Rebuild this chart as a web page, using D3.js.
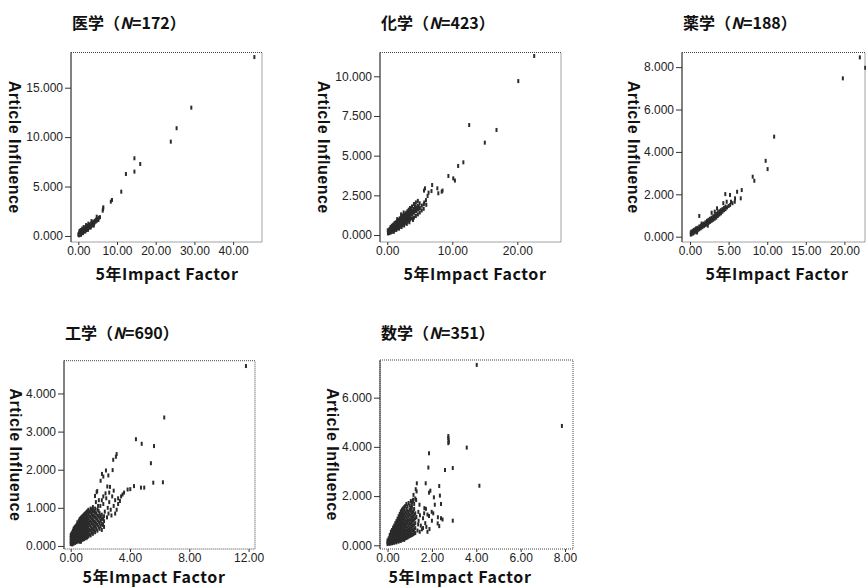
<!DOCTYPE html>
<html><head><meta charset="utf-8">
<script src="https://cdn.jsdelivr.net/npm/d3@7"></script>
<style>body{margin:0;background:#fff}</style>
</head><body><svg id="c" width="866" height="588"></svg>
<script>
const titles = ["医学","化学","薬学","工学","数学"];
const sampleN = [172,423,188,690,351];
const xTitle = "5年Impact Factor";
const yTitle = "Article Influence";

const xTicks = [[0,10,20,30,40],[0,10,20],[0,5,10,15,20],[0,4,8,12],[0,2,4,6,8]];
const yTicks = [[0,5,10,15],[0,2.5,5,7.5,10],[0,2,4,6,8],[0,1,2,3,4],[0,2,4,6]];

// 医学 (5-year IF, Article Influence)
const medPts = [
[45.5,18.1],[29.2,12.98],[25.4,10.9],[23.9,9.54],[14.5,7.86],[16.0,7.28],[14.5,6.51],[12.3,6.27],[11.1,4.48],
[8.7,3.64],[8.4,3.47],[6.46,2.9],[6.3,2.56],[6.4,2.75],[4.75,1.95],[5.3,1.85],[5.6,1.9],
[0.05,0.12],[0.1,0.2],[0.15,0.1],[0.2,0.28],[0.25,0.16],[0.3,0.22],[0.35,0.35],[0.4,0.14],[0.45,0.26],[0.5,0.4],
[0.55,0.2],[0.6,0.32],[0.65,0.45],[0.7,0.25],[0.75,0.38],[0.8,0.5],[0.85,0.3],[0.9,0.42],[0.95,0.55],[1.0,0.34],
[1.05,0.47],[1.1,0.6],[1.15,0.38],[1.2,0.52],[1.3,0.66],[1.35,0.42],[1.4,0.56],[1.5,0.72],[1.55,0.46],[1.6,0.6],
[1.7,0.78],[1.75,0.52],[1.8,0.66],[1.9,0.85],[1.95,0.58],[2.0,0.72],[2.1,0.9],[2.15,0.62],[2.2,0.78],[2.3,0.96],
[2.35,0.7],[2.4,0.84],[2.5,1.02],[2.55,0.76],[2.6,0.9],[2.7,1.08],[2.8,0.84],[2.9,0.98],[3.0,1.15],[3.05,0.9],
[3.2,1.05],[3.3,1.25],[3.4,1.0],[3.5,1.15],[3.6,1.35],[3.7,1.12],[3.8,1.25],[3.9,1.45],[4.0,1.22],[4.2,1.35],
[4.3,1.55],[4.5,1.45],[4.6,1.65],[4.8,1.55],[5.0,1.72],[5.2,1.62],[0.3,0.5],[0.6,0.6],[1.0,0.75],[1.4,0.9],
[2.0,1.1],[2.6,1.25],[3.4,1.5],[0.2,0.06],[0.7,0.12],[1.2,0.28],[1.8,0.45],[2.5,0.62],[3.2,0.85],[4.0,1.05]
];

// 化学
const chemPts = [
[22.6,11.28],[20.15,9.7],[12.6,6.93],[16.8,6.62],[15.0,5.82],[11.7,4.58],[10.9,4.35],[10.15,3.57],[9.4,3.72],
[10.4,3.43],[8.37,2.73],[8.5,2.8],[7.7,2.94],[7.85,2.63],[6.9,3.15],[6.8,2.77],[5.8,2.94],[5.65,2.8],[6.2,2.46],
[6.35,2.67],[5.95,2.2],[5.7,2.05],[6.0,1.9],
[0.1,0.1],[0.12,0.2],[0.08,0.3],[0.3,0.12],[0.28,0.22],[0.32,0.35],[0.5,0.15],[0.48,0.28],[0.52,0.42],[0.5,0.5],
[0.7,0.2],[0.72,0.32],[0.68,0.45],[0.7,0.58],[0.9,0.25],[0.92,0.38],[0.88,0.52],[0.9,0.65],[1.1,0.3],[1.12,0.42],
[1.08,0.58],[1.1,0.75],[1.3,0.35],[1.32,0.48],[1.28,0.62],[1.3,0.8],[1.5,0.42],[1.52,0.55],[1.48,0.7],[1.5,0.88],
[1.52,1.0],[1.7,0.45],[1.72,0.6],[1.68,0.78],[1.7,0.95],[1.9,0.5],[1.92,0.66],[1.88,0.85],[1.9,1.05],[2.1,0.58],
[2.12,0.72],[2.08,0.9],[2.1,1.1],[2.12,1.3],[2.3,0.62],[2.32,0.8],[2.28,0.98],[2.3,1.2],[2.5,0.68],[2.52,0.85],
[2.48,1.05],[2.5,1.25],[2.52,1.42],[2.7,0.75],[2.72,0.92],[2.68,1.12],[2.7,1.3],[2.9,0.8],[2.92,1.0],[2.88,1.2],
[2.9,1.4],[3.1,0.85],[3.12,1.05],[3.08,1.3],[3.1,1.5],[3.3,0.9],[3.32,1.12],[3.28,1.38],[3.3,1.6],[3.5,0.98],
[3.52,1.2],[3.48,1.45],[3.5,1.7],[3.8,1.05],[3.82,1.3],[3.78,1.55],[3.8,1.8],[4.1,1.1],[4.12,1.4],[4.08,1.65],
[4.1,1.95],[4.4,1.2],[4.42,1.5],[4.38,1.75],[4.4,2.05],[4.7,1.3],[4.72,1.6],[4.68,1.85],[4.7,2.15],[5.0,1.42],
[5.02,1.7],[4.98,2.0],[5.3,1.55],[5.32,1.85],[5.6,1.65],[5.62,1.95],[0.2,0.16],[0.4,0.25],[0.6,0.35],[0.8,0.45],
[1.0,0.5],[1.2,0.55],[1.4,0.6],[1.6,0.68],[1.8,0.72],[2.0,0.8],[2.2,0.88],[2.4,0.95],[2.6,1.02],[2.8,1.1],
[3.0,1.18],[3.2,1.22],[3.4,1.3],[3.65,1.4],[3.95,1.5],[4.25,1.6],[4.55,1.7],[4.85,1.78],
[0.4,0.38],[0.8,0.58],[1.2,0.68],[1.6,0.85],[2.0,1.0],[2.4,1.12],[2.8,1.25],[3.2,1.42],[3.65,1.62],[4.25,1.82],
[1.0,0.2],[1.4,0.32],[1.8,0.4],[2.2,0.5],[2.6,0.6],[3.0,0.7],[3.4,0.8],[3.95,0.95]
];

// 薬学
const pharmPts = [
[22.0,8.46],[22.7,7.97],[19.8,7.47],[10.9,4.72],[9.8,3.58],[10.05,3.19],[8.12,2.83],[8.33,2.64],[6.7,2.2],
[6.1,2.12],[6.57,1.81],[5.83,1.81],[5.18,1.97],[5.31,1.65],[4.57,2.01],[4.75,1.65],[4.31,1.58],[1.2,0.98],
[0.1,0.1],[0.1,0.2],[0.2,0.12],[0.2,0.25],[0.3,0.18],[0.4,0.15],[0.4,0.28],[0.5,0.22],[0.5,0.32],[0.6,0.2],
[0.7,0.28],[0.7,0.36],[0.8,0.25],[0.8,0.4],[0.9,0.32],[1.0,0.3],[1.0,0.42],[1.1,0.36],[1.2,0.35],[1.2,0.48],
[1.3,0.42],[1.4,0.4],[1.4,0.52],[1.5,0.48],[1.6,0.45],[1.6,0.58],[1.7,0.52],[1.8,0.5],[1.8,0.62],[1.9,0.58],
[2.0,0.55],[2.0,0.68],[2.1,0.62],[2.2,0.6],[2.2,0.75],[2.3,0.68],[2.4,0.65],[2.4,0.8],[2.5,0.72],[2.6,0.7],
[2.6,0.85],[2.7,0.78],[2.8,0.75],[2.8,0.9],[2.9,0.82],[3.0,0.8],[3.0,0.96],[3.1,0.88],[3.2,0.85],[3.2,1.0],
[3.3,0.95],[3.4,0.9],[3.4,1.08],[3.5,1.0],[3.6,0.98],[3.6,1.15],[3.7,1.05],[3.8,1.05],[3.8,1.2],[3.9,1.12],
[4.0,1.1],[4.0,1.25],[4.1,1.2],[4.2,1.18],[4.2,1.3],[4.4,1.25],[4.4,1.35],[4.6,1.3],[4.6,1.42],[4.8,1.38],
[5.0,1.45],[5.2,1.5],[5.5,1.58],[5.8,1.65],[2.8,1.13],[3.2,1.18],[3.5,1.34],[1.5,0.62],[2.3,0.52],[0.9,0.2]
];

// 工学
const engPts = [
[11.82,4.72],[6.31,3.37],[4.40,2.80],[4.79,2.68],[5.62,2.62],[5.41,2.17],[5.57,1.66],[6.22,1.67],[4.74,1.53],
[4.96,1.53],[4.27,1.57],[3.84,1.48],[3.10,2.41],[3.05,2.34],[2.87,2.26],[2.38,1.98],[2.54,1.85],[2.02,1.71],
[2.11,1.89],[2.83,1.99],[1.75,1.41],[2.2,1.82],[0.69,0.11],[4.02,1.49],[3.32,1.18],[2.47,1.56],
[1.64,1.31],[1.79,1.44],[1.7,1.15],[1.9,1.2],[2.0,1.05],[2.2,1.1],[2.4,1.25],[2.5,1.0],[2.6,1.15],[2.7,0.95],
[2.8,1.3],[2.9,1.05],[3.0,1.2],[3.1,0.95],[3.2,1.1],[2.3,0.9],[2.55,0.85],[2.35,1.38],[2.6,1.4],[2.2,1.3],
[2.45,0.75],[2.75,0.8],[3.0,0.85],[2.1,1.2],[1.85,1.05],[3.4,1.3],[3.5,1.35],[2.9,1.45],[2.65,1.55],[3.2,1.25],[3.6,1.4],
[0.0,0.05],[0.0,0.12],[0.0,0.2],[0.0,0.28],[0.05,0.08],[0.05,0.16],[0.05,0.24],[0.05,0.32],
[0.1,0.04],[0.1,0.1],[0.1,0.18],[0.1,0.26],[0.1,0.35],
[0.15,0.07],[0.15,0.2],[0.15,0.32],[0.15,0.4],
[0.2,0.06],[0.2,0.14],[0.2,0.22],[0.2,0.3],[0.2,0.38],[0.2,0.45],
[0.25,0.1],[0.25,0.2],[0.25,0.3],[0.25,0.42],[0.25,0.48],
[0.3,0.08],[0.3,0.16],[0.3,0.25],[0.3,0.33],[0.3,0.42],[0.3,0.5],
[0.35,0.12],[0.35,0.22],[0.35,0.3],[0.35,0.4],[0.35,0.52],
[0.4,0.1],[0.4,0.18],[0.4,0.27],[0.4,0.36],[0.4,0.45],[0.4,0.55],
[0.45,0.14],[0.45,0.24],[0.45,0.34],[0.45,0.44],[0.45,0.56],[0.45,0.62],
[0.5,0.12],[0.5,0.2],[0.5,0.3],[0.5,0.4],[0.5,0.5],[0.5,0.6],
[0.55,0.16],[0.55,0.26],[0.55,0.36],[0.55,0.46],[0.55,0.56],[0.55,0.66],
[0.6,0.11],[0.6,0.22],[0.6,0.32],[0.6,0.42],[0.6,0.52],[0.6,0.62],[0.6,0.7],
[0.65,0.18],[0.65,0.28],[0.65,0.38],[0.65,0.5],[0.65,0.6],[0.65,0.72],
[0.7,0.14],[0.7,0.24],[0.7,0.35],[0.7,0.45],[0.7,0.55],[0.7,0.66],[0.7,0.74],
[0.75,0.2],[0.75,0.3],[0.75,0.4],[0.75,0.52],[0.75,0.62],[0.75,0.76],
[0.8,0.16],[0.8,0.26],[0.8,0.36],[0.8,0.48],[0.8,0.58],[0.8,0.7],[0.8,0.78],
[0.85,0.22],[0.85,0.32],[0.85,0.44],[0.85,0.55],[0.85,0.66],[0.85,0.8],
[0.9,0.18],[0.9,0.28],[0.9,0.4],[0.9,0.5],[0.9,0.62],[0.9,0.72],[0.9,0.82],
[0.95,0.24],[0.95,0.35],[0.95,0.46],[0.95,0.58],[0.95,0.7],[0.95,0.84],
[1.0,0.2],[1.0,0.3],[1.0,0.42],[1.0,0.54],[1.0,0.65],[1.0,0.76],[1.0,0.86],
[1.05,0.26],[1.05,0.38],[1.05,0.5],[1.05,0.62],[1.05,0.72],[1.05,0.88],
[1.1,0.22],[1.1,0.33],[1.1,0.45],[1.1,0.56],[1.1,0.68],[1.1,0.8],[1.1,0.9],
[1.15,0.28],[1.15,0.4],[1.15,0.52],[1.15,0.64],[1.15,0.76],[1.15,0.92],
[1.2,0.25],[1.2,0.36],[1.2,0.48],[1.2,0.6],[1.2,0.72],[1.2,0.84],[1.2,0.95],
[1.27,0.3],[1.27,0.42],[1.27,0.55],[1.27,0.66],[1.27,0.78],[1.27,0.9],
[1.35,0.28],[1.35,0.4],[1.35,0.52],[1.35,0.64],[1.35,0.76],[1.35,0.88],[1.35,0.98],
[1.42,0.35],[1.42,0.46],[1.42,0.6],[1.42,0.72],[1.42,0.84],[1.42,0.95],
[1.5,0.32],[1.5,0.44],[1.5,0.56],[1.5,0.68],[1.5,0.8],[1.5,0.92],[1.5,1.02],
[1.58,0.4],[1.58,0.52],[1.58,0.64],[1.58,0.78],[1.58,0.9],
[1.65,0.36],[1.65,0.5],[1.65,0.62],[1.65,0.75],[1.65,0.88],[1.65,0.98],
[1.72,0.45],[1.72,0.58],[1.72,0.72],[1.72,0.85],
[1.8,0.4],[1.8,0.55],[1.8,0.68],[1.8,0.8],[1.8,0.95],
[1.88,0.5],[1.88,0.64],[1.88,0.78],[1.88,0.92],
[1.95,0.45],[1.95,0.6],[1.95,0.74],[1.95,0.86],
[2.02,0.52],[2.02,0.66],[2.02,0.78],
[2.1,0.42],[2.1,0.58],[2.1,0.7],[2.1,0.82],
[2.18,0.55],[2.18,0.72],
[2.25,0.5],[2.25,0.65],[2.25,0.78]
];

// 数学
const mathPts = [
[4.02,7.33],[7.86,4.85],[4.14,2.42],[3.57,3.97],[2.74,4.44],[2.74,4.36],[2.75,4.28],[2.76,4.2],[2.74,4.15],
[1.87,3.74],[1.84,3.16],[2.59,3.06],[2.94,3.14],[2.94,1.0],[2.33,2.41],[1.72,2.52],[1.32,2.52],[1.87,2.14],
[2.36,2.02],[2.41,1.68],[2.09,1.95],[2.13,1.65],[1.87,1.19],[2.41,1.10],[2.26,0.89],[2.33,0.78],[2.48,1.05],
[1.89,0.66],[1.17,2.05],[1.29,1.84],[1.44,1.65],[1.66,1.51],[1.27,2.28],[1.31,2.19],[1.93,2.22],[1.99,1.36],
[2.06,1.30],[1.73,1.48],[2.27,1.14],[1.39,1.36],[1.46,1.22],[1.16,1.8],[1.09,1.66],[1.06,1.52],[1.4,1.0],
[1.5,0.8],[1.6,1.1],[1.55,0.65],[1.7,0.9],[1.8,1.25],[1.35,0.6],[1.45,0.55],[1.6,0.7],[1.75,0.75],[2.0,1.0],
[1.3,1.15],[1.38,0.85],[1.65,1.3],[1.8,0.55],
[0.0,0.05],[0.0,0.12],[0.0,0.2],[0.05,0.08],[0.05,0.18],[0.05,0.28],
[0.1,0.06],[0.1,0.14],[0.1,0.24],[0.1,0.34],[0.1,0.42],
[0.15,0.1],[0.15,0.2],[0.15,0.3],[0.15,0.45],[0.15,0.55],
[0.2,0.08],[0.2,0.18],[0.2,0.28],[0.2,0.38],[0.2,0.5],[0.2,0.62],
[0.25,0.12],[0.25,0.24],[0.25,0.36],[0.25,0.48],[0.25,0.6],[0.25,0.72],
[0.3,0.1],[0.3,0.2],[0.3,0.32],[0.3,0.44],[0.3,0.56],[0.3,0.68],[0.3,0.8],
[0.35,0.15],[0.35,0.27],[0.35,0.4],[0.35,0.52],[0.35,0.65],[0.35,0.78],[0.35,0.9],
[0.4,0.12],[0.4,0.22],[0.4,0.35],[0.4,0.48],[0.4,0.6],[0.4,0.72],[0.4,0.85],[0.4,0.98],
[0.45,0.18],[0.45,0.3],[0.45,0.42],[0.45,0.55],[0.45,0.68],[0.45,0.82],[0.45,0.95],[0.45,1.08],
[0.5,0.15],[0.5,0.25],[0.5,0.38],[0.5,0.5],[0.5,0.62],[0.5,0.75],[0.5,0.9],[0.5,1.05],[0.5,1.18],
[0.55,0.2],[0.55,0.32],[0.55,0.45],[0.55,0.58],[0.55,0.72],[0.55,0.86],[0.55,1.0],[0.55,1.15],[0.55,1.28],
[0.6,0.18],[0.6,0.28],[0.6,0.4],[0.6,0.52],[0.6,0.66],[0.6,0.8],[0.6,0.95],[0.6,1.1],[0.6,1.25],[0.6,1.38],
[0.65,0.22],[0.65,0.35],[0.65,0.48],[0.65,0.62],[0.65,0.76],[0.65,0.9],[0.65,1.05],[0.65,1.2],[0.65,1.35],[0.65,1.45],
[0.7,0.25],[0.7,0.38],[0.7,0.52],[0.7,0.68],[0.7,0.84],[0.7,1.0],[0.7,1.15],[0.7,1.3],[0.7,1.5],
[0.75,0.22],[0.75,0.32],[0.75,0.45],[0.75,0.6],[0.75,0.75],[0.75,0.9],[0.75,1.08],[0.75,1.25],[0.75,1.42],[0.75,1.55],
[0.8,0.28],[0.8,0.4],[0.8,0.55],[0.8,0.7],[0.8,0.85],[0.8,1.0],[0.8,1.18],[0.8,1.35],[0.8,1.6],
[0.85,0.3],[0.85,0.45],[0.85,0.6],[0.85,0.78],[0.85,0.95],[0.85,1.12],[0.85,1.3],[0.85,1.48],[0.85,1.68],
[0.9,0.32],[0.9,0.42],[0.9,0.58],[0.9,0.72],[0.9,0.9],[0.9,1.05],[0.9,1.22],[0.9,1.4],[0.9,1.58],
[0.95,0.35],[0.95,0.5],[0.95,0.65],[0.95,0.82],[0.95,1.0],[0.95,1.18],[0.95,1.35],[0.95,1.72],
[1.0,0.38],[1.0,0.55],[1.0,0.7],[1.0,0.88],[1.0,1.05],[1.0,1.25],[1.0,1.45],[1.0,1.62],
[1.05,0.4],[1.05,0.52],[1.05,0.68],[1.05,0.85],[1.05,1.02],[1.05,1.2],[1.05,1.4],[1.05,1.8],
[1.1,0.42],[1.1,0.6],[1.1,0.78],[1.1,0.95],[1.1,1.12],[1.1,1.32],[1.1,1.55],[1.1,1.75],
[1.15,0.45],[1.15,0.62],[1.15,0.8],[1.15,1.0],[1.15,1.18],[1.15,1.38],[1.15,1.85],
[1.2,0.48],[1.2,0.65],[1.2,0.85],[1.2,1.05],[1.2,1.25],[1.2,1.48],[1.2,1.68],
[1.25,0.5],[1.25,0.7],[1.25,0.9],[1.25,1.1],[1.25,1.3],[1.25,1.9]
];

const seriesPts = [medPts, chemPts, pharmPts, engPts, mathPts];

// layout: plot box [left, top, right, bottom], axis domains, label positions
const layout = [
 {box:[71,52.5,262,242],  xd:[-1.89,47.47], yd:[-0.61,18.56], ylx:14,  xlx:167, ty:29, xly:280},
 {box:[380,52.5,561,242], xd:[-1.12,26.72], yd:[-0.44,11.5],  ylx:323, xlx:475, ty:29, xly:280},
 {box:[682,52.5,865,242], xd:[-1.04,22.67], yd:[-0.25,8.69],  ylx:633, xlx:777, ty:29, xly:280},
 {box:[64,360.7,255,549], xd:[-0.45,12.43], yd:[-0.08,4.86],  ylx:15,  xlx:154, ty:339, xly:583},
 {box:[380,360,573,549],  xd:[-0.34,8.36],  yd:[-0.15,7.53],  ylx:332, xlx:460, ty:339, xly:583}
];

const svg = d3.select("#c");
const tickFont = "'Liberation Sans', Arial, sans-serif";
const cjkFont = "'Noto Sans CJK JP', sans-serif";

seriesPts.forEach((pts, i) => {
  const L = layout[i];
  const [x0, y0, x1, y1] = L.box;
  const x = d3.scaleLinear().domain(L.xd).range([x0, x1]);
  const y = d3.scaleLinear().domain(L.yd).range([y1, y0]);
  const g = svg.append("g");

  g.append("rect").attr("x", x0).attr("y", y0).attr("width", x1 - x0).attr("height", y1 - y0)
    .attr("fill", "none").attr("stroke", "#444").attr("stroke-width", 1).attr("stroke-dasharray", "1,1");
  g.append("line").attr("x1", x0).attr("x2", x0).attr("y1", y0).attr("y2", y1)
    .attr("stroke", "#333").attr("stroke-width", 1);

  const ya = g.append("g").attr("transform", `translate(${x0},0)`)
    .call(d3.axisLeft(y).tickValues(yTicks[i]).tickFormat(d3.format(".3f")).tickSize(6).tickPadding(2));
  ya.select(".domain").remove();
  ya.selectAll("line").attr("stroke", "#333");
  ya.selectAll("text").attr("font-size", 12).attr("font-family", tickFont).attr("fill", "#222");

  const xa = g.append("g").attr("transform", `translate(0,${y1})`)
    .call(d3.axisBottom(x).tickValues(xTicks[i]).tickFormat(d3.format(".2f")).tickSize(3).tickPadding(1));
  xa.select(".domain").remove();
  xa.selectAll("line").attr("stroke", "#333");
  xa.selectAll("text").attr("font-size", 12).attr("font-family", tickFont).attr("fill", "#222");

  g.append("g").selectAll("rect").data(pts).join("rect")
    .attr("x", d => x(d[0]) - 1).attr("y", d => y(d[1]) - 2)
    .attr("width", 2).attr("height", 4).attr("fill", "#2b2b2b");

  const t = g.append("text").attr("x", x0 + 1).attr("y", L.ty)
    .attr("font-family", cjkFont).attr("font-weight", "bold").attr("font-size", 16).attr("fill", "#111");
  t.append("tspan").text(titles[i] + "（");
  t.append("tspan").attr("font-style", "italic").text("N");
  t.append("tspan").text("=" + sampleN[i] + "）");

  g.append("text").attr("transform", `translate(${L.ylx},${(y0 + y1) / 2}) rotate(90)`)
    .attr("text-anchor", "middle").attr("dominant-baseline", "central")
    .attr("font-family", tickFont).attr("font-weight", "bold").attr("font-size", 16)
    .attr("letter-spacing", 0.5).attr("fill", "#111").text(yTitle);

  g.append("text").attr("x", L.xlx).attr("y", L.xly)
    .attr("text-anchor", "middle").attr("font-family", cjkFont).attr("font-weight", "bold")
    .attr("font-size", 16).attr("letter-spacing", 0.6).attr("fill", "#111").text(xTitle);
});
</script>
</body></html>
